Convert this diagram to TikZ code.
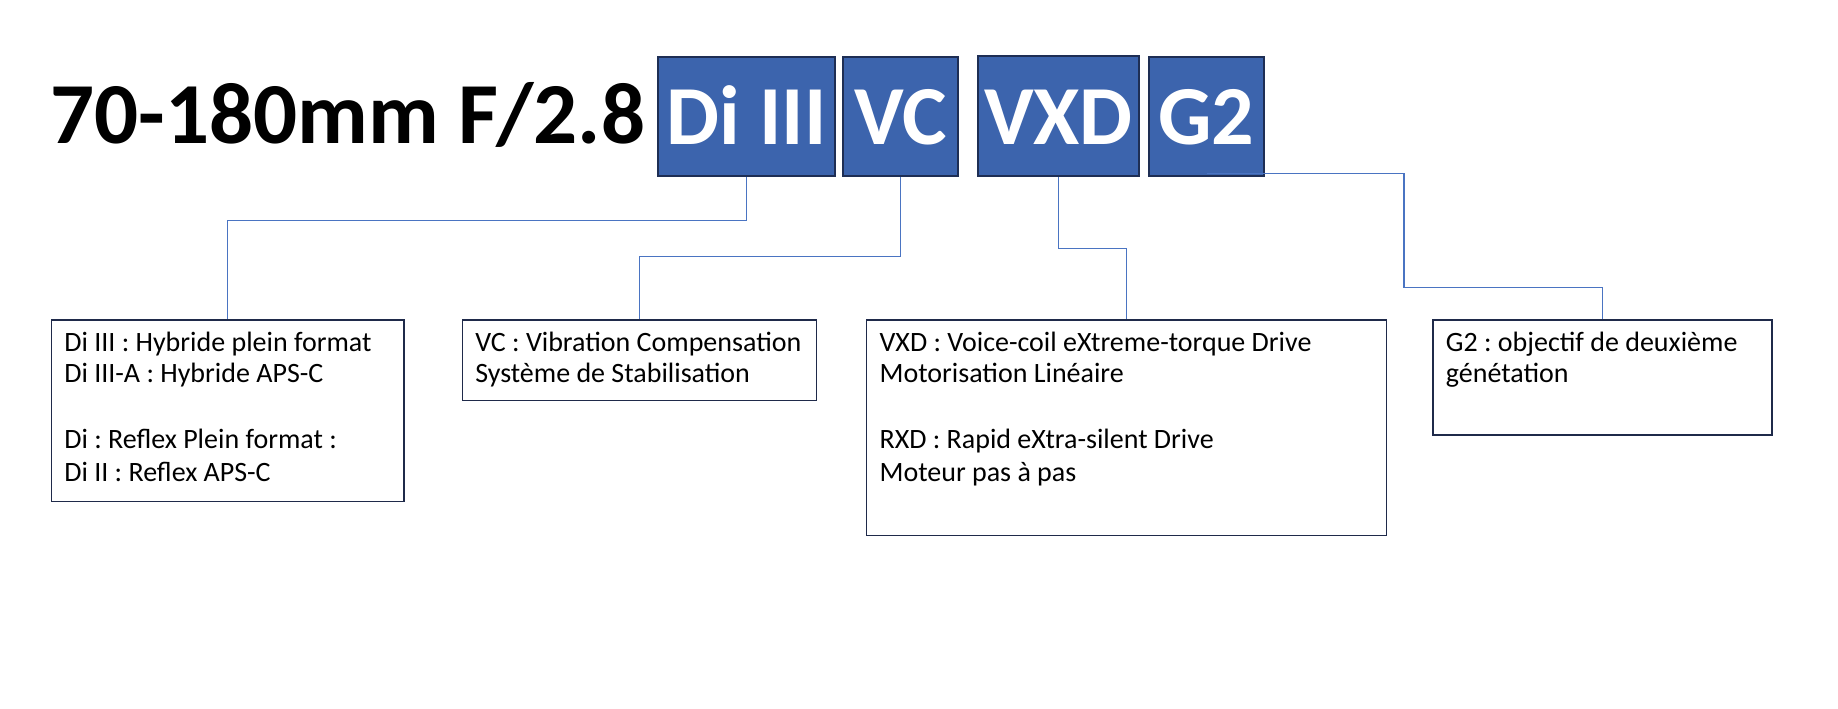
\documentclass[tikz,border=0pt]{standalone}
\usepackage{fontspec}
\setmainfont{Carlito}
\frenchspacing
\definecolor{tagblue}{HTML}{3C64AD}
\definecolor{tagline}{HTML}{1E2E54}
\definecolor{boxline}{HTML}{1F2A4A}
\definecolor{linkblue}{HTML}{4A74C2}
\newcommand{\bigfont}{\fontsize{42}{50}\selectfont\bfseries}
\newcommand{\smallfont}{\fontsize{14}{15.5}\selectfont}
\newcommand{\legtext}[3]{\parbox[t][#2][t]{#1}{\raggedright\rule{0pt}{16pt}#3}}
\begin{document}
\begin{tikzpicture}[x=0.5pt,y=-0.5pt,
    tag/.style={fill=tagblue, draw=tagline, line width=1.1pt, text=white,
      font=\bigfont, inner sep=0pt, text height=43.65pt, text depth=16pt},
    legend/.style={draw=boxline, line width=0.6pt, anchor=north west,
      inner xsep=6.5pt, inner ysep=0pt, font=\smallfont},
    link/.style={draw=linkblue, line width=0.6pt}]
  \fill[white] (0,0) rectangle (1838,708);
  \node[anchor=base west, inner sep=0pt, font=\fontsize{43.5}{50}\selectfont\bfseries] (ti) at (50,143.3) {70-180mm F/2.8};
  \node[tag, minimum width=88.8pt] (di) at (746.5,116.35) {Di III};
  \node[tag, minimum width=57.8pt] (vc) at (900.5,116.35) {VC};
  \node[tag, minimum width=80.8pt, text height=44.15pt] (vxd) at (1058.5,115.85) {VXD};
  \node[tag, minimum width=57.8pt] (gd) at (1206.5,116.35) {G2};
  \node[legend] (ldi) at (50.7,319.3) {\legtext{163.3pt}{90.85pt}{Di III : Hybride plein format\\
    Di III-A : Hybride APS-C\\[17.5pt]
    Di : Reflex Plein format :\\[1pt]
    Di II : Reflex APS-C}};
  \node[legend] (lvc) at (461.7,319.3) {\legtext{163.9pt}{40.35pt}{VC : Vibration Compensation\\
    Système de Stabilisation}};
  \node[legend] (lvxd) at (866,319.3) {\legtext{247pt}{107.85pt}{VXD : Voice-coil eXtreme-torque Drive\\
    Motorisation Linéaire\\[17.5pt]
    RXD : Rapid eXtra-silent Drive\\[1pt]
    Moteur pas à pas}};
  \node[legend] (lg) at (1432.3,319.3) {\legtext{156.5pt}{57.5pt}{G2 : objectif de deuxième\\
    génétation}};
  \coordinate (gbend) at (1404,287.3);
  \draw[link] (di.south) -- ++(0,43) -| (ldi.north);
  \draw[link] (vc.south) -- ++(0,79) -| (lvc.north);
  \draw[link] (vxd.south) -- ++(0,71.7) -| (lvxd.north);
  \draw[link] ([yshift=1.9pt]gd.south) -| (gbend) -| (lg.north);
\end{tikzpicture}
\end{document}
